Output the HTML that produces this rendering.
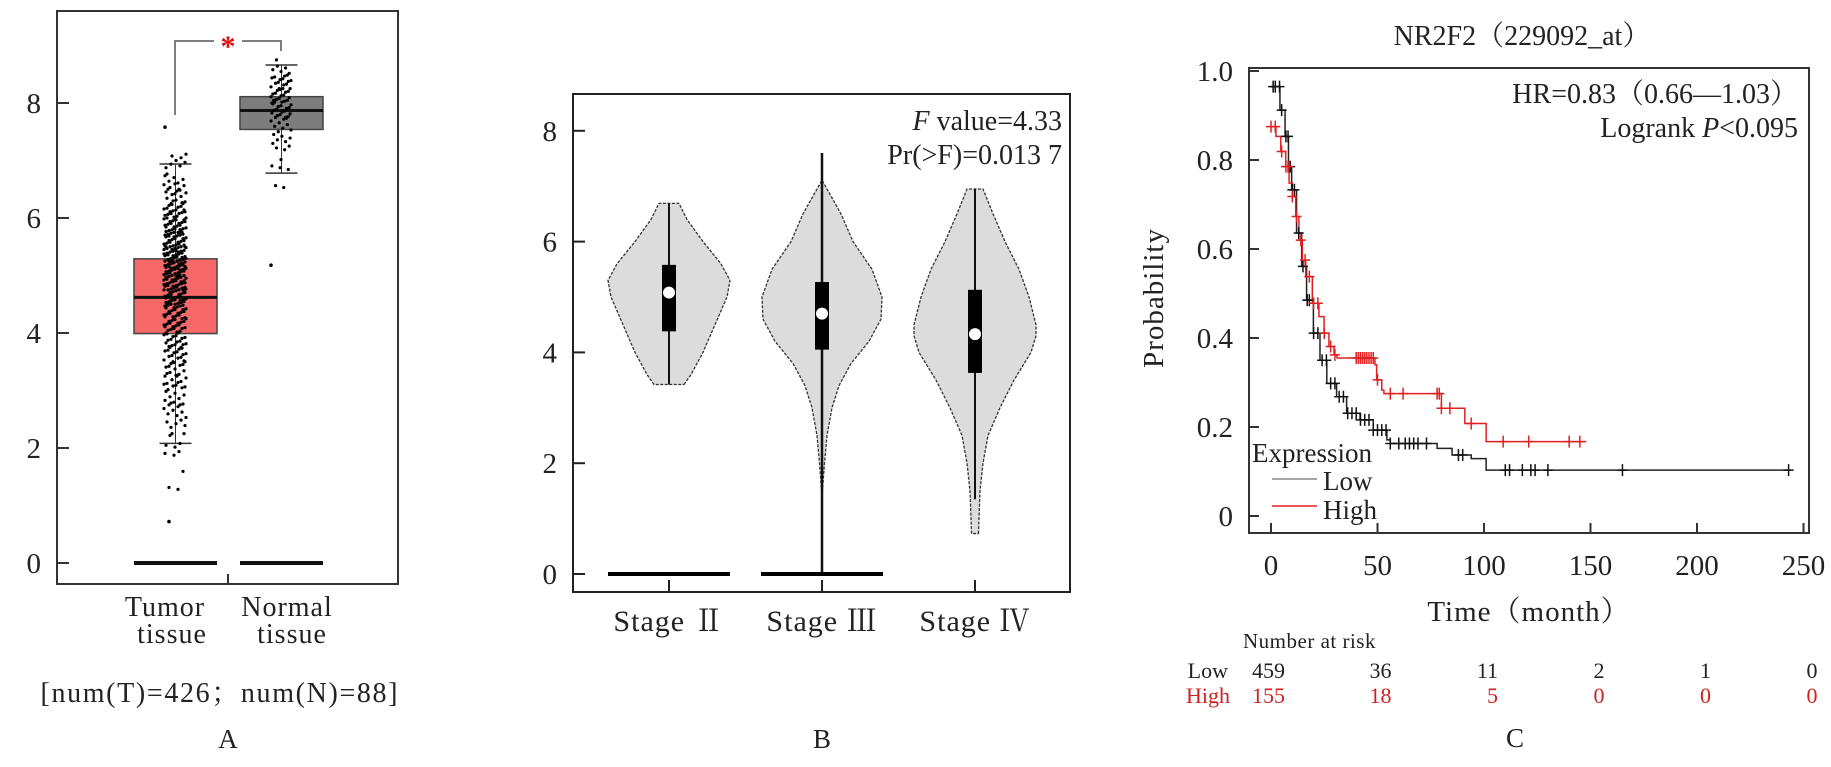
<!DOCTYPE html>
<html><head><meta charset="utf-8"><style>
html,body{margin:0;padding:0;background:#fff;}
svg{display:block;font-family:"Liberation Serif","Noto Serif CJK SC",serif;}
</style></head><body>
<svg id="fig" width="1831" height="767" viewBox="0 0 1831 767" xmlns="http://www.w3.org/2000/svg">
<g id="pa"></g>
<g id="pb"></g>
<g id="pc"></g>
</svg>
<script>
// ---------- Panel A data ----------
const aGroups = ["Tumor", "Normal"];
const aQ1 = [3.99, 7.54];
const aMed = [4.62, 7.87];
const aQ3 = [5.29, 8.11];
const aWLo = [2.08, 6.78];
const aWHi = [6.94, 8.66];
const aTicks = [0, 2, 4, 6, 8];
const tumorBinStart = 1.25;
const tumorBins = [2,1,3,5,6,8,10,12,14,16,18,22,26,30,34,36,34,30,26,20,14,10,6,3];
const tumorOutliers = [7.58, 0.72];
const normalBinStart = 6.5;
const normalBins = [2,3,4,6,10,16,20,14,6];
const normalOutliers = [5.18];
// ---------- Panel B data ----------
const bStages = ["Stage Ⅱ", "Stage Ⅲ", "Stage Ⅳ"];
const bTicks = [0, 2, 4, 6, 8];
const bQ1 = [4.38, 4.05, 3.63];
const bMed = [5.08, 4.70, 4.33];
const bQ3 = [5.58, 5.27, 5.13];
const bWLo = [3.42, 0, 1.35];
const bWHi = [6.69, 7.60, 6.95];
const bZeroBar = [true, true, false];
const vV2 = [3.42,3.6,4.0,4.5,5.0,5.3,5.6,6.0,6.4,6.69];
const vW2 = [15,22,34,46,58,61,52,34,18,10];
const vV3 = [1.4,2.0,2.5,3.0,3.4,3.8,4.2,4.6,5.0,5.5,6.0,6.5,7.11];
const vW3 = [0,2.5,5,10,17,29,47,59,60,50,31,19,0];
const vV4 = [0.73,1.0,1.5,2.0,2.5,3.0,3.5,4.0,4.3,4.5,5.0,5.5,6.0,6.5,6.95];
const vW4 = [3.5,4,5,8,13,25,39,56,61,61,54,44,30,18,8];
// ---------- Panel C data ----------
const cXTicks = [0, 50, 100, 150, 200, 250];
const cYTicks = [0, 0.2, 0.4, 0.6, 0.8, 1.0];
const lowT = [0,4.2,6.6,8.2,9.7,12,14.4,16.7,19.9,23,26.2,30.8,35.5,41.8,48,54.4,56,78,85,94,101,244];
const lowS = [0.965,0.912,0.853,0.785,0.733,0.636,0.561,0.485,0.411,0.35,0.298,0.268,0.231,0.216,0.193,0.171,0.163,0.152,0.137,0.129,0.103,0.103];
const highT = [0,2.3,4.6,6.9,8.5,10,11.6,13.1,14.7,16.3,19.4,22.5,24.9,27.2,29.6,31,48.8,49.6,52,53,80,91,101,148];
const highS = [0.875,0.853,0.819,0.785,0.748,0.718,0.673,0.62,0.575,0.538,0.478,0.448,0.411,0.381,0.362,0.355,0.34,0.306,0.283,0.275,0.242,0.208,0.167,0.167];
const lowCens = [1,2,4,5,7,8,9,10,11,13,15,17,18,20,22,24,26,28,30,32,34,36,38,40,42,44,46,48,50,52,54,56,60,63,65,67,69,73,88,90,110,112,118,122,124,130,165,243];
const highCens = [0,2,5,7,8,10,12,14,16,18,20,22,25,28,30,40,41,42,43,44,45,46,47,48,50,56,62,78,79,80,84,94,109,121,140,145];
const riskLow = [459, 36, 11, 2, 1, 0];
const riskHigh = [155, 18, 5, 0, 0, 0];

const NS = "http://www.w3.org/2000/svg";
function mk(parent, tag, attrs, text) {
  const e = document.createElementNS(NS, tag);
  for (const k in attrs) e.setAttribute(k, attrs[k]);
  if (text !== undefined) e.textContent = text;
  parent.appendChild(e);
  return e;
}

// ================= Panel A =================
(function(){
  const g = document.getElementById('pa');
  const y = v => 563 - 57.5 * v;
  const cap = 16;
  let e;
  e = mk(g, 'rect', {x:57, y:11, width:341, height:573, fill:'none', stroke:'#333', 'stroke-width':2});
   
  aTicks.forEach(t => {
    e = mk(g, 'line', {x1:57, x2:69, y1:y(t), y2:y(t), stroke:'#333', 'stroke-width':2});
     
    e = mk(g, 'text', {x:41, y:y(t)+10, 'text-anchor':'end', 'font-size':29, fill:'#222'}, String(t));
     
  });
  e = mk(g, 'line', {x1:228, x2:228, y1:574, y2:584, stroke:'#333', 'stroke-width':2});
   
  const fills = ['#f76868', '#7d7d7d'];
  const xs = [[134,217],[240,323]];
  aGroups.forEach((gName, i) => {
    const m = (xs[i][0]+xs[i][1])/2;
    e = mk(g, 'line', {x1:m, x2:m, y1:y(aWLo[i]), y2:y(aWHi[i]), stroke:'#333', 'stroke-width':1});
     
    [aWLo[i], aWHi[i]].forEach(v => {
      e = mk(g, 'line', {x1:m-cap, x2:m+cap, y1:y(v), y2:y(v), stroke:'#333', 'stroke-width':1.5});
       
    });
    e = mk(g, 'rect', {x:xs[i][0], y:y(aQ3[i]), width:xs[i][1]-xs[i][0], height:y(aQ1[i])-y(aQ3[i]), fill:fills[i], stroke:'#444', 'stroke-width':1.5});
     
    e = mk(g, 'line', {x1:xs[i][0], x2:xs[i][1], y1:y(aMed[i]), y2:y(aMed[i]), stroke:'#111', 'stroke-width':3});
     
    e = mk(g, 'line', {x1:xs[i][0], x2:xs[i][1], y1:y(0), y2:y(0), stroke:'#111', 'stroke-width':4});
     
  });
  function dots(bins, start, center, spread, outliers, name) {
    let k = 0;
    bins.forEach((n, b) => {
      for (let j = 0; j < n; j++) {
        k++;
        const v = start + b*0.25 + ((k*53)%17)/16*0.25;
        const dx = (((k*37)%23)/22 - 0.5) * spread;
        const d = mk(g, 'circle', {cx:center+dx, cy:y(v), r:1.6, fill:'#000'});
         
      }
    });
    outliers.forEach((v, j) => {
      const d = mk(g, 'circle', {cx:center + (j%2?-6:-10), cy:y(v), r:1.8, fill:'#000'});
       
    });
  }
  dots(tumorBins, tumorBinStart, 175, 22, tumorOutliers, 'tumor-point');
  dots(normalBins, normalBinStart, 281, 20, normalOutliers, 'normal-point');
  e = mk(g, 'polyline', {points:'175,115 175,41 214,41', fill:'none', stroke:'#555', 'stroke-width':1.5});
   
  e = mk(g, 'polyline', {points:'242,41 281,41 281,51', fill:'none', stroke:'#555', 'stroke-width':1.5});
   
  e = mk(g, 'text', {x:228, y:56, 'text-anchor':'middle', 'font-size':30, fill:'#e01010', 'font-weight':'bold'}, '*');
   
  [['Tumor',165,616],['tissue',172,643],['Normal',287,616],['tissue',292,643]].forEach(t => {
    e = mk(g, 'text', {x:t[1], y:t[2], 'text-anchor':'middle', 'font-size':28, fill:'#222', 'letter-spacing':'1'}, t[0]);
     
  });
  e = mk(g, 'text', {x:219, y:702, 'text-anchor':'middle', 'font-size':28, fill:'#222', textLength:357}, '[num(T)=426；num(N)=88]');
   
  e = mk(g, 'text', {x:228, y:748, 'text-anchor':'middle', 'font-size':27, fill:'#222'}, 'A');
   
})();

// ================= Panel B =================
(function(){
  const g = document.getElementById('pb');
  const y = v => 574 - 55.4 * v;
  const cx = [669, 822, 975];
  const vv = [vV2, vV3, vV4], vw = [vW2, vW3, vW4];
  let e;
  e = mk(g, 'rect', {x:573, y:94, width:497, height:498, fill:'none', stroke:'#222', 'stroke-width':2});
   
  bTicks.forEach(t => {
    e = mk(g, 'line', {x1:573, x2:585, y1:y(t), y2:y(t), stroke:'#222', 'stroke-width':2});
     
    e = mk(g, 'text', {x:557, y:y(t)+10, 'text-anchor':'end', 'font-size':29, fill:'#222'}, String(t));
     
  });
  bStages.forEach((s, i) => {
    const c = cx[i];
    let pts = [];
    vv[i].forEach((v, j) => pts.push((c + vw[i][j]) + ',' + y(v)));
    for (let j = vv[i].length-1; j >= 0; j--) pts.push((c - vw[i][j]) + ',' + y(vv[i][j]));
    e = mk(g, 'polygon', {points:pts.join(' '), fill:'#dcdcdc', stroke:'#333', 'stroke-width':1.3, 'stroke-dasharray':'3,1.5', 'stroke-linejoin':'round'});
     
    e = mk(g, 'line', {x1:c, x2:c, y1:y(bWLo[i]), y2:y(bWHi[i]), stroke:'#111', 'stroke-width':i===1?2.5:2});
     
    e = mk(g, 'rect', {x:c-7, y:y(bQ3[i]), width:14, height:y(bQ1[i])-y(bQ3[i]), fill:'#000'});
     
    e = mk(g, 'circle', {cx:c, cy:y(bMed[i]), r:6, fill:'#fff'});
     
    if (bZeroBar[i]) {
      e = mk(g, 'line', {x1:c-61, x2:c+61, y1:y(0), y2:y(0), stroke:'#000', 'stroke-width':4});
       
    }
    e = mk(g, 'line', {x1:c, x2:c, y1:580, y2:592, stroke:'#222', 'stroke-width':2});
     
    e = mk(g, 'text', {x:c, y:631, 'text-anchor':'middle', 'font-size':30, fill:'#222', 'letter-spacing':'1'}, s);
     
  });
  e = mk(g, 'text', {x:1062, y:130, 'text-anchor':'end', 'font-size':28, fill:'#222'});
   
  mk(e, 'tspan', {'font-style':'italic'}, 'F');
  mk(e, 'tspan', {}, ' value=4.33');
  e = mk(g, 'text', {x:1062, y:164, 'text-anchor':'end', 'font-size':28, fill:'#222'}, 'Pr(>F)=0.013 7');
   
  e = mk(g, 'text', {x:822, y:748, 'text-anchor':'middle', 'font-size':27, fill:'#222'}, 'B');
   
})();

// ================= Panel C =================
(function(){
  const g = document.getElementById('pc');
  const x = t => 1271 + 2.13 * t;
  const y = p => 516 - 445 * p;
  let e;
  e = mk(g, 'rect', {x:1249, y:68, width:560, height:465, fill:'none', stroke:'#333', 'stroke-width':2});
   
  e = mk(g, 'text', {x:1522, y:45, 'text-anchor':'middle', 'font-size':28, fill:'#222'}, 'NR2F2（229092_at）');
   
  cYTicks.forEach(t => {
    e = mk(g, 'line', {x1:1249, x2:1259, y1:y(t), y2:y(t), stroke:'#333', 'stroke-width':2});
     
    e = mk(g, 'text', {x:1233, y:y(t)+10, 'text-anchor':'end', 'font-size':29, fill:'#222'}, t === 0 ? '0' : t.toFixed(1));
     
  });
  cXTicks.forEach(t => {
    e = mk(g, 'line', {x1:x(t), x2:x(t), y1:523, y2:533, stroke:'#333', 'stroke-width':2});
     
    e = mk(g, 'text', {x:x(t), y:575, 'text-anchor':'middle', 'font-size':29, fill:'#222'}, String(t));
     
  });
  e = mk(g, 'text', {x:1529, y:621, 'text-anchor':'middle', 'font-size':29, fill:'#222', 'letter-spacing':'1'}, 'Time（month）');
   
  e = mk(g, 'text', {x:0, y:0, 'text-anchor':'middle', 'font-size':29, fill:'#222', transform:'translate(1163,298) rotate(-90)', 'letter-spacing':'1'}, 'Probability');
   

  function stepPath(T, S) {
    let d = 'M' + x(T[0]) + ',' + y(S[0]);
    for (let i = 1; i < T.length; i++) d += ' H' + x(T[i]) + ' V' + y(S[i]);
    return d;
  }
  function survAt(T, S, t) { let s = S[0]; for (let i = 0; i < T.length; i++) if (T[i] <= t) s = S[i]; return s; }
  e = mk(g, 'path', {d:stepPath(lowT, lowS), fill:'none', stroke:'#222', 'stroke-width':1.5});
   
  e = mk(g, 'path', {d:stepPath(highT, highS), fill:'none', stroke:'#e02020', 'stroke-width':1.5});
   
  lowCens.forEach(t => {
    const cy = y(survAt(lowT, lowS, t)), cxp = x(t);
    e = mk(g, 'path', {d:'M'+(cxp-5)+','+cy+' H'+(cxp+5)+' M'+cxp+','+(cy-6)+' V'+(cy+6), stroke:'#111', 'stroke-width':1.5});
     
  });
  highCens.forEach(t => {
    const cy = y(survAt(highT, highS, t)), cxp = x(t);
    e = mk(g, 'path', {d:'M'+(cxp-5)+','+cy+' H'+(cxp+5)+' M'+cxp+','+(cy-6)+' V'+(cy+6), stroke:'#e02020', 'stroke-width':1.5});
     
  });
  e = mk(g, 'text', {x:1798, y:103, 'text-anchor':'end', 'font-size':28, fill:'#222'}, 'HR=0.83（0.66—1.03）');
   
  e = mk(g, 'text', {x:1798, y:137, 'text-anchor':'end', 'font-size':28, fill:'#222'});
   
  mk(e, 'tspan', {}, 'Logrank ');
  mk(e, 'tspan', {'font-style':'italic'}, 'P');
  mk(e, 'tspan', {}, '<0.095');
  // legend
  e = mk(g, 'text', {x:1252, y:462, 'font-size':27, fill:'#222'}, 'Expression');
   
  e = mk(g, 'line', {x1:1272, x2:1317, y1:479, y2:479, stroke:'#888', 'stroke-width':1.5});
   
  e = mk(g, 'text', {x:1323, y:490, 'font-size':27, fill:'#222'}, 'Low');
   
  e = mk(g, 'line', {x1:1272, x2:1317, y1:506, y2:506, stroke:'#e02020', 'stroke-width':1.5});
   
  e = mk(g, 'text', {x:1323, y:519, 'font-size':27, fill:'#222'}, 'High');
   
  // risk table
  e = mk(g, 'text', {x:1243, y:648, 'font-size':21, fill:'#222', 'letter-spacing':'0.5'}, 'Number at risk');
   
  e = mk(g, 'text', {x:1228, y:678, 'text-anchor':'end', 'font-size':22, fill:'#222'}, 'Low');
   
  e = mk(g, 'text', {x:1230, y:703, 'text-anchor':'end', 'font-size':22, fill:'#d02020'}, 'High');
   
  cXTicks.forEach((t, i) => {
    e = mk(g, 'text', {x:x(t)+14, y:678, 'text-anchor':'end', 'font-size':22, fill:'#222'}, String(riskLow[i]));
     
    e = mk(g, 'text', {x:x(t)+14, y:703, 'text-anchor':'end', 'font-size':22, fill:'#d02020'}, String(riskHigh[i]));
     
  });
  e = mk(g, 'text', {x:1515, y:747, 'text-anchor':'middle', 'font-size':27, fill:'#222'}, 'C');
   
})();
</script>
</body></html>
